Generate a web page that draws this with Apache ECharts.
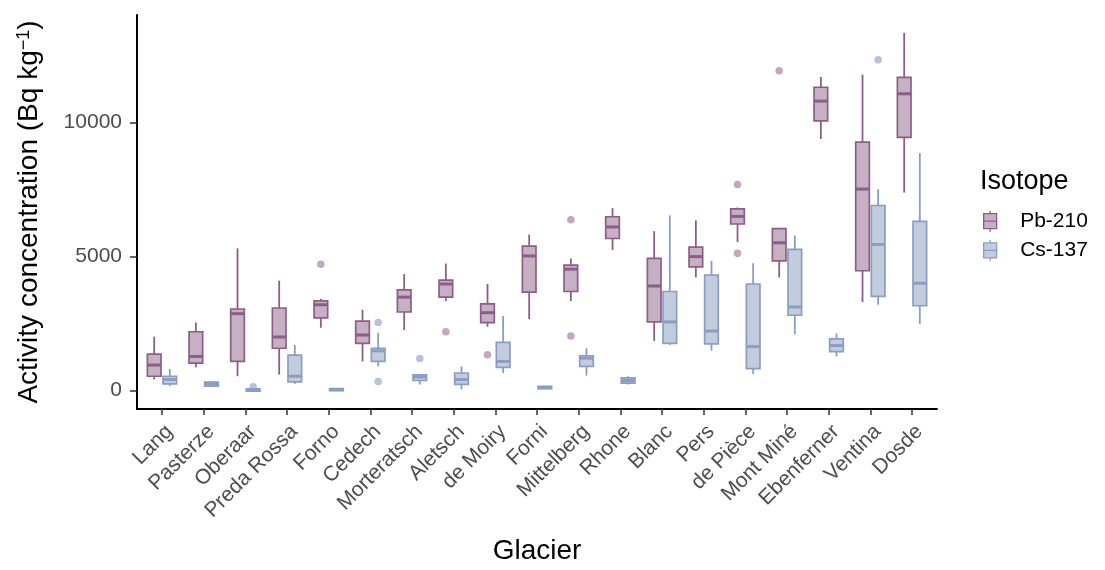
<!DOCTYPE html>
<html>
<head>
<meta charset="utf-8">
<title>Activity concentration by glacier</title>
<script src="https://cdn.jsdelivr.net/npm/echarts@6/dist/echarts.min.js"></script>
<style>
  html, body { margin: 0; padding: 0; background: #ffffff; }
  #chart { width: 1105px; height: 570px; }
</style>
</head>
<body>
<div id="chart"></div>
<script>
const FONT = "'Liberation Sans', Arial, sans-serif";

const glaciers = [
  "Lang", "Pasterze", "Oberaar", "Preda Rossa", "Forno", "Cedech", "Morteratsch",
  "Aletsch", "de Moiry", "Forni", "Mittelberg", "Rhone", "Blanc", "Pers",
  "de Pièce", "Mont Miné", "Ebenferner", "Ventina", "Dosde",
];

// [lower whisker, Q1, median, Q3, upper whisker]
const pb210 = [
  [406, 528, 945, 1351, 2004],
  [860, 1018, 1266, 2188, 2531],
  [528, 1081, 2864, 3037, 5300],
  [590, 1572, 1993, 3074, 4096],
  [2336, 2705, 3196, 3343, 3417],
  [1081, 1756, 2066, 2583, 3011],
  [2251, 2926, 3480, 3749, 4340],
  [3332, 3480, 3970, 4118, 4734],
  [2373, 2531, 2900, 3232, 3970],
  [2657, 3664, 5018, 5387, 5816],
  [3332, 3690, 4524, 4672, 4919],
  [5240, 5668, 6100, 6480, 6801],
  [1845, 2557, 3897, 4930, 5941],
  [4218, 4613, 4993, 5350, 6347],
  [5535, 6210, 6494, 6775, 6826],
  [4218, 4834, 5509, 6037, 6063],
  [9384, 10059, 10797, 11314, 11697],
  [3295, 4465, 7513, 9262, 11782],
  [7380, 9446, 11070, 11683, 13343],
];

const cs137 = [
  [159, 244, 406, 528, 797],
  [122, 159, 244, 306, 343],
  [-25, -25, 15, 55, 60],
  [244, 317, 528, 1314, 1697],
  [-15, -10, 25, 65, 75],
  [897, 1081, 1476, 1572, 2151],
  [221, 369, 502, 576, 613],
  [37, 221, 406, 649, 897],
  [649, 860, 1081, 1793, 2779],
  [50, 60, 100, 150, 165],
  [553, 897, 1203, 1292, 1572],
  [221, 269, 369, 465, 528],
  [1697, 1756, 2557, 3690, 6531],
  [1487, 1734, 2214, 4303, 4834],
  [613, 812, 1635, 3970, 4745],
  [2089, 2804, 3111, 5262, 5779],
  [1266, 1450, 1672, 1919, 2125],
  [3196, 3506, 5446, 6900, 7502],
  [2472, 3159, 3996, 6310, 8856],
];

const pbOutliers = [
  ["Forno", 4709], ["Aletsch", 2188], ["de Moiry", 1328], ["Mittelberg", 6369],
  ["Mittelberg", 2030], ["de Pièce", 7686], ["de Pièce", 5114], ["Mont Miné", 11930],
];

const csOutliers = [
  ["Oberaar", 130], ["Cedech", 2531], ["Cedech", 332], ["Morteratsch", 1192], ["Ventina", 12336],
];

const yTicks = [0, 5000, 10000];

const colors = {
  pb: { stroke: "#8c5e87", fill: "#c6b1c4", dot: "#c2a7bf" },
  cs: { stroke: "#8b9dc1", fill: "#c3ccdc", dot: "#b7c3d8" },
};

const chart = echarts.init(document.querySelector("#chart"));

function boxRenderer(side, stroke, fill) {
  return function (params, api) {
    const i = api.value(0);
    const band = api.size([1, 0])[0];
    const w = band * 0.375;
    const cx = api.coord([i, 0])[0] + (side * w) / 2;
    const y = (k) => api.coord([i, api.value(k)])[1];
    const lo = y(1);
    const q1 = y(2);
    const md = y(3);
    const q3 = y(4);
    const hi = y(5);
    const lineStyle = { stroke, lineWidth: 1.8 };
    return {
      type: "group",
      children: [
        { type: "line", shape: { x1: cx, y1: lo, x2: cx, y2: q1 }, style: lineStyle },
        { type: "line", shape: { x1: cx, y1: q3, x2: cx, y2: hi }, style: lineStyle },
        {
          type: "rect",
          shape: { x: cx - w / 2 + 1, y: q3, width: w - 2, height: Math.max(q1 - q3, 1) },
          style: { fill, stroke, lineWidth: 1.7 },
        },
        {
          type: "line",
          shape: { x1: cx - w / 2 + 1, y1: md, x2: cx + w / 2 - 1, y2: md },
          style: { stroke, lineWidth: 3 },
        },
      ],
    };
  };
}

function dotRenderer(side, fill) {
  return function (params, api) {
    const band = api.size([1, 0])[0];
    const w = band * 0.375;
    const p = api.coord([api.value(0), api.value(1)]);
    return {
      type: "circle",
      shape: { cx: p[0] + (side * w) / 2, cy: p[1], r: 3.8 },
      style: { fill },
    };
  };
}

function boxSeries(name, rows, side, c) {
  return {
    name,
    type: "custom",
    renderItem: boxRenderer(side, c.stroke, c.fill),
    itemStyle: { color: c.fill, borderColor: c.stroke },
    encode: { x: 0, y: [1, 2, 3, 4, 5] },
    data: rows.map((r, i) => [i, ...r]),
    z: 3,
  };
}

function dotSeries(name, points, side, c) {
  return {
    name,
    type: "custom",
    renderItem: dotRenderer(side, c.dot),
    itemStyle: { color: c.fill },
    encode: { x: 0, y: 1 },
    data: points.map(([g, v]) => [glaciers.indexOf(g), v]),
    z: 2,
  };
}

const legendIcon =
  "path://M0,3 L13,3 L13,18 L0,18 Z M0,10.5 L13,10.5 M6.5,0 L6.5,3 M6.5,18 L6.5,21";

chart.setOption({
  animation: false,
  backgroundColor: "#ffffff",
  textStyle: { fontFamily: FONT },
  title: {
    text: "Isotope",
    left: 980,
    top: 168,
    padding: 0,
    textStyle: { fontFamily: FONT, fontSize: 27, fontWeight: "normal", color: "#000000" },
  },
  legend: {
    orient: "vertical",
    left: 983,
    top: 210,
    padding: 0,
    itemWidth: 14,
    itemHeight: 21,
    itemGap: 7,
    selectedMode: false,
    textStyle: { fontFamily: FONT, fontSize: 21, color: "#000000", padding: [0, 0, 0, 18] },
    data: [
      {
        name: "Pb-210",
        icon: legendIcon,
        itemStyle: { color: colors.pb.fill, borderColor: colors.pb.stroke, borderWidth: 1.3 },
      },
      {
        name: "Cs-137",
        icon: legendIcon,
        itemStyle: { color: colors.cs.fill, borderColor: colors.cs.stroke, borderWidth: 1.3 },
      },
    ],
  },
  grid: { left: 137, right: 168, top: 15, bottom: 157, containLabel: false },
  xAxis: {
    type: "value",
    min: -0.6,
    max: glaciers.length - 1 + 0.6,
    name: "Glacier",
    nameLocation: "middle",
    nameGap: 128,
    nameTextStyle: { fontFamily: FONT, fontSize: 28, color: "#000000" },
    splitLine: { show: false },
    axisLine: { show: true, onZero: false, lineStyle: { color: "#000000", width: 2 } },
    axisTick: {
      show: true,
      length: 6,
      customValues: glaciers.map((g, i) => i),
      lineStyle: { color: "#333333", width: 1.5 },
    },
    axisLabel: {
      customValues: glaciers.map((g, i) => i),
      formatter: (v) => glaciers[Math.round(v)] || "",
      rotate: 45,
      align: "right",
      verticalAlign: "top",
      margin: 12,
      fontFamily: FONT,
      fontSize: 21,
      color: "#4d4d4d",
    },
  },
  yAxis: {
    type: "value",
    min: -695,
    max: 14010,
    name: "{a|Activity concentration (Bq kg}{s|\u22121}{a|)}",
    nameLocation: "middle",
    nameGap: 94,
    nameTextStyle: {
      fontFamily: FONT,
      fontSize: 28,
      color: "#000000",
      rich: {
        a: { fontFamily: FONT, fontSize: 28, color: "#000000" },
        s: { fontFamily: FONT, fontSize: 18, color: "#000000", verticalAlign: "top" },
      },
    },
    splitLine: { show: false },
    axisLine: { show: true, onZero: false, lineStyle: { color: "#000000", width: 2 } },
    axisTick: {
      show: true,
      length: 7,
      customValues: yTicks,
      lineStyle: { color: "#333333", width: 1.5 },
    },
    axisLabel: {
      customValues: yTicks,
      formatter: (v) => String(v),
      margin: 15,
      fontFamily: FONT,
      fontSize: 21,
      color: "#4d4d4d",
    },
  },
  series: [
    dotSeries("Pb-210", pbOutliers, -1, colors.pb),
    dotSeries("Cs-137", csOutliers, 1, colors.cs),
    boxSeries("Pb-210", pb210, -1, colors.pb),
    boxSeries("Cs-137", cs137, 1, colors.cs),
  ],
});
</script>
</body>
</html>
